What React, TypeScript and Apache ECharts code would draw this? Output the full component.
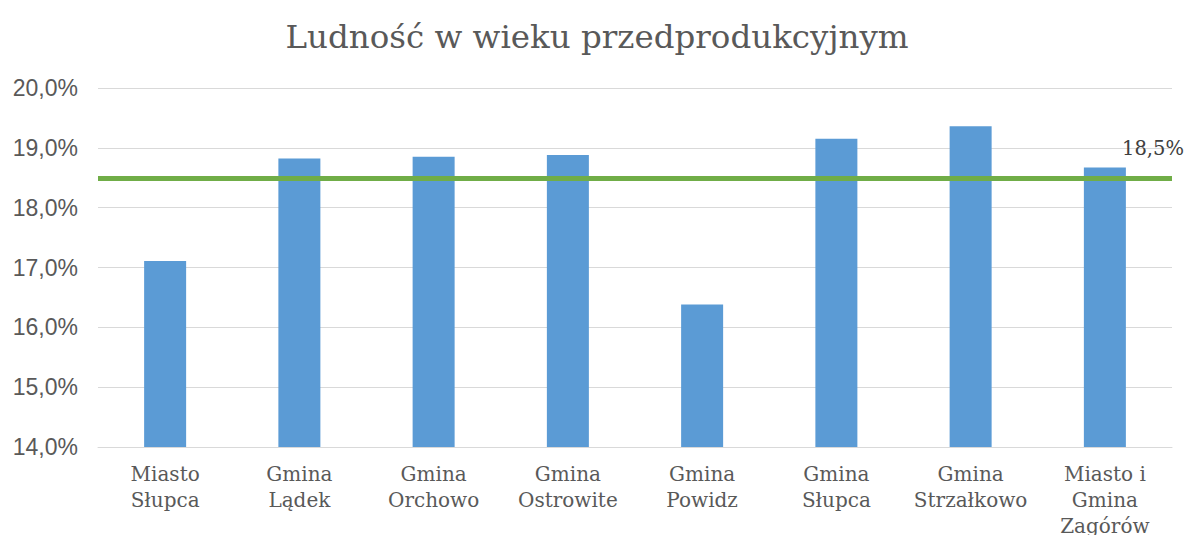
import React, { useEffect, useRef } from "react";
import * as echarts from "echarts";

const title = "Ludność w wieku przedprodukcyjnym";
const categories = [
  "Miasto\nSłupca",
  "Gmina\nLądek",
  "Gmina\nOrchowo",
  "Gmina\nOstrowite",
  "Gmina\nPowidz",
  "Gmina\nSłupca",
  "Gmina\nStrzałkowo",
  "Miasto i\nGmina\nZagórów",
];
const values = [17.11, 18.82, 18.85, 18.88, 16.38, 19.15, 19.36, 18.67];
const referenceValue = 18.5;
const yMin = 14;
const yMax = 20;
const yStep = 1;

const fmt = (v: number) => v.toFixed(1).replace(".", ",") + "%";

export default function App() {
  const ref = useRef<HTMLDivElement>(null);
  useEffect(() => {
    if (!ref.current) return;
    const chart = echarts.init(ref.current, null, { renderer: "svg" });
    const serif = "Georgia, 'DejaVu Serif', serif";
    chart.setOption({
      animation: false,
      backgroundColor: "#ffffff",
      title: {
        text: title,
        left: "center",
        top: 15,
        textStyle: {
          fontFamily: serif,
          fontSize: 32.5,
          fontWeight: "normal",
          color: "#595959",
        },
      },
      grid: {
        left: 98,
        right: 22,
        top: 88,
        bottom: 96,
        containLabel: false,
        outerBoundsMode: "none",
      },
      xAxis: {
        type: "category",
        data: categories,
        axisTick: { show: false },
        axisLine: { show: true, lineStyle: { color: "#D9D9D9", width: 1 } },
        axisLabel: {
          interval: 0,
          margin: 14,
          fontFamily: serif,
          fontSize: 20,
          lineHeight: 26,
          color: "#595959",
        },
      },
      yAxis: {
        type: "value",
        min: yMin,
        max: yMax,
        interval: yStep,
        axisLine: { show: false },
        axisTick: { show: false },
        splitLine: { lineStyle: { color: "#D9D9D9", width: 1 } },
        axisLabel: {
          formatter: fmt,
          fontFamily: "'Liberation Sans', Arial, sans-serif",
          fontSize: 23,
          color: "#595959",
          margin: 20,
        },
      },
      series: [
        {
          type: "bar",
          data: values,
          barWidth: 42,
          itemStyle: { color: "#5B9BD5" },
          markLine: {
            silent: true,
            symbol: ["none", "none"],
            lineStyle: { color: "#70AD47", width: 5, type: "solid" },
            label: {
              show: true,
              position: "insideEndTop",
              formatter: () => fmt(referenceValue),
              fontFamily: serif,
              fontSize: 19.5,
              color: "#404040",
              offset: [17, -14],
            },
            data: [{ yAxis: referenceValue }],
          },
        },
      ],
    });
    return () => chart.dispose();
  }, []);
  return <div ref={ref} style={{ width: 1194, height: 543, margin: -8 }} />;
}
